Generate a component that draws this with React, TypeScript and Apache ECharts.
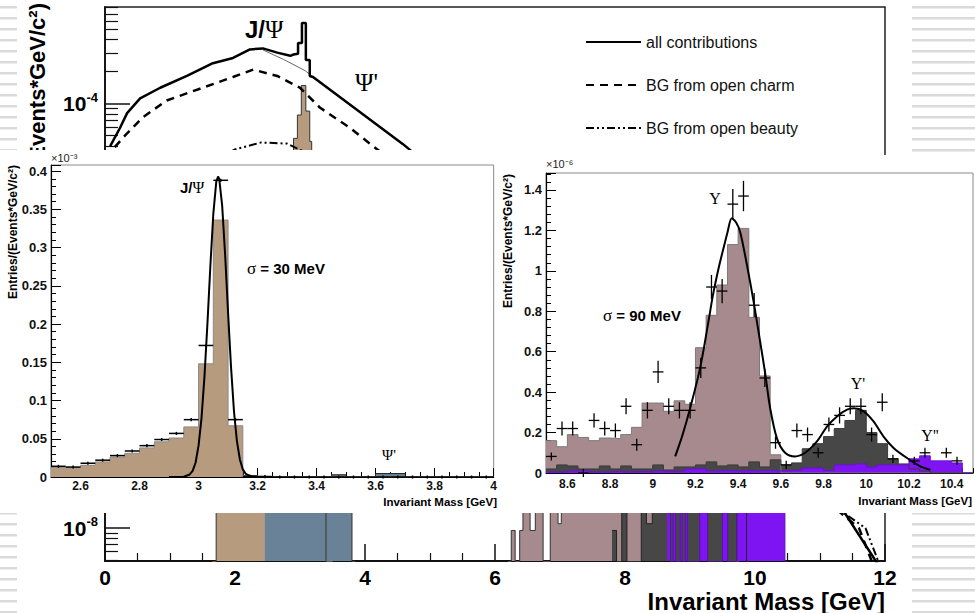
import React, { useEffect, useRef } from "react";
import * as echarts from "echarts";

type Pt = [number, number];

const SANS = "'Liberation Sans', Arial, Helvetica, sans-serif";
const SERIF = "'Liberation Serif', 'Times New Roman', serif";

// ================= Background: full mass range (log scale) =================
const bgYLabelExponents = [-8, -4];
const bgYMajorExponents = [-8, -7, -6, -5, -4];
const bgYMinorMultipliers = [2, 3, 4, 5, 6, 7, 8, 9];

const allContributions: Pt[] = [
  [0.08, 3.98e-5], [0.23, 5.89e-5], [0.34, 8.13e-5], [0.54, 1.12e-4], [0.85, 1.41e-4],
  [1.26, 1.82e-4], [1.66, 2.4e-4], [1.97, 2.69e-4], [2.23, 3.24e-4], [2.43, 3.31e-4],
  [2.65, 3.02e-4], [2.85, 2.82e-4], [2.9, 2.9e-4], [2.97, 2.95e-4], [2.97, 3.72e-4],
  [3.03, 3.72e-4], [3.03, 5.75e-4], [3.09, 5.75e-4], [3.09, 2.57e-4], [3.15, 2.57e-4],
  [3.15, 1.82e-4], [3.2, 1.78e-4], [4.58, 4.17e-5], [6.0, 7.9e-6], [8.0, 1.0e-6],
  [9.4, 6.3e-7], [10.0, 1.6e-7], [11.0, 3.2e-8], [11.95, 4.0e-9],
];
const continuumNoJpsi: Pt[] = [[2.43, 3.2e-4], [2.75, 2.6e-4], [3.08, 2.04e-4], [3.2, 1.78e-4]];
const openCharm: Pt[] = [
  [0.15, 3.89e-5], [0.34, 5.25e-5], [0.58, 7.41e-5], [0.95, 1.07e-4], [1.46, 1.38e-4],
  [1.97, 1.78e-4], [2.28, 2.09e-4], [2.65, 1.82e-4], [3.0, 1.41e-4], [3.31, 9.12e-5],
  [3.77, 5.89e-5], [4.08, 4.17e-5], [6.0, 5.0e-6], [8.0, 5.0e-7], [10.0, 6.3e-8],
  [11.2, 1.6e-8], [11.6, 1.0e-8], [11.85, 4.0e-9],
];
const openBeauty: Pt[] = [
  [0.5, 3.2e-6], [1.0, 1.26e-5], [1.5, 2.5e-5], [2.0, 3.7e-5], [2.4, 4.3e-5], [2.8, 4.2e-5],
  [3.2, 3.2e-5], [3.8, 1.6e-5], [5.0, 4.0e-6], [7.0, 5.0e-7], [9.0, 1.0e-7], [11.0, 2.0e-8],
  [11.7, 1.0e-8], [11.95, 4.0e-9],
];
// histograms: [lower bin edge, content]
const bgJpsiHist: Pt[] = [
  [1.65, 1e-10], [1.71, 2.5e-8], [1.9, 6e-8], [2.1, 1.2e-7], [2.3, 2.5e-7], [2.5, 5e-7],
  [2.7, 1.5e-6], [2.8, 4e-6], [2.9, 4.7e-5], [2.96, 7.8e-5], [3.02, 1.48e-4], [3.09, 8.5e-5],
  [3.15, 4.4e-5], [3.18, 8e-6], [3.25, 5e-7], [3.4, 1e-10], [3.5, 1e-10],
];
const bgPsiPrimeHist: Pt[] = [
  [2.46, 2.5e-8], [2.8, 6e-8], [3.1, 1.2e-7], [3.4, 4e-7], [3.55, 2e-6], [3.62, 1.0e-5],
  [3.7, 3e-6], [3.75, 3e-7], [3.8, 1e-10], [3.85, 1e-10],
];
const bgUpsilonHist: Pt[] = [
  [6.2, 1e-10], [6.25, 9.5e-9], [6.31, 1e-10], [6.38, 9.5e-9], [6.43, 3e-7], [6.54, 9.5e-9],
  [6.62, 3e-7], [6.74, 1e-10], [6.85, 3e-7], [6.97, 1.1e-8], [7.02, 4e-7], [9.72, 1e-10], [9.75, 1e-10],
];
const bgUpsilon2SHist: Pt[] = [
  [7.8, 9.5e-9], [7.87, 1e-10], [7.95, 3e-7], [8.03, 1e-10], [8.25, 3e-7], [8.33, 1.1e-8],
  [8.42, 3e-7], [9.87, 1e-10], [9.9, 1e-10],
];
const bgUpsilon3SHist: Pt[] = [
  [8.65, 3e-7], [8.7, 1e-10], [8.74, 3e-7], [8.78, 1e-10], [8.85, 3e-7], [8.88, 1e-10],
  [8.93, 3e-7], [8.96, 1e-10], [9.15, 3e-7], [9.27, 1e-10], [9.5, 3e-7], [9.58, 1e-10],
  [9.72, 3e-7], [10.46, 1e-10], [10.5, 1e-10],
];

// ================= Left inset: J/psi region (x10^-3) =================
const leftMassLabels = [2.6, 2.8, 3.0, 3.2, 3.4, 3.6, 3.8, 4.0];
const leftBinLo = [
  2.5, 2.55, 2.6, 2.65, 2.7, 2.75, 2.8, 2.85, 2.9, 2.95, 3.0, 3.05, 3.1, 3.15, 3.2,
  3.25, 3.3, 3.35, 3.4, 3.45, 3.5, 3.55, 3.6, 3.65, 3.7, 3.75, 3.8, 3.85, 3.9, 3.95,
];
const jpsiMC = [
  0.0122, 0.0122, 0.0153, 0.0197, 0.026, 0.031, 0.038, 0.046, 0.051, 0.0655, 0.148, 0.336, 0.067, 0.002, 0.0008,
  0.0005, 0.0003, 0.0002, 0.0001, 0, 0, 0, 0, 0, 0, 0, 0, 0, 0, 0,
];
const jpsiData = [
  0.014, 0.013, 0.018, 0.022, 0.028, 0.034, 0.041, 0.049, 0.057, 0.075, 0.172, 0.388, 0.075, 0.001, 0.0005,
  0, 0, 0, 0, 0, 0, 0, 0, 0, 0, 0, 0, 0, 0, 0,
];
const otherBumpLo = [3.45];
const otherBumpMC = [0.003];
const psiPrimeLo = [3.6, 3.65];
const psiPrimeMC = [0.0045, 0.0045];
const jpsiFit: Pt[] = [
  [2.9, 0], [2.93, 0.0001], [2.95, 0.0004], [2.97, 0.0033], [2.98, 0.008], [2.99, 0.019], [3.0, 0.041],
  [3.01, 0.077], [3.02, 0.131], [3.03, 0.2], [3.04, 0.276], [3.05, 0.344], [3.06, 0.386], [3.066, 0.393],
  [3.07, 0.39], [3.08, 0.355], [3.09, 0.291], [3.1, 0.215], [3.11, 0.144], [3.12, 0.086], [3.13, 0.047],
  [3.14, 0.023], [3.15, 0.01], [3.16, 0.004], [3.18, 0.0005], [3.25, 0],
];

// ================= Right inset: Upsilon region (x10^-6) =================
const rightMassLabels = [8.6, 8.8, 9.0, 9.2, 9.4, 9.6, 9.8, 10.0, 10.2, 10.4];
const rightBinLo = [
  8.5, 8.55, 8.6, 8.65, 8.7, 8.75, 8.8, 8.85, 8.9, 8.95, 9.0, 9.05, 9.1, 9.15, 9.2, 9.25, 9.3, 9.35, 9.4, 9.45,
  9.5, 9.55, 9.6, 9.65, 9.7, 9.75, 9.8, 9.85, 9.9, 9.95, 10.0, 10.05, 10.1, 10.15, 10.2, 10.25, 10.3, 10.35, 10.4, 10.45,
];
const upsilon1SMC = [
  0.16, 0.13, 0.19, 0.176, 0.16, 0.173, 0.17, 0.19, 0.226, 0.346, 0.346, 0.305, 0.357, 0.34, 0.62, 0.78, 0.93, 1.13, 1.21, 0.77,
  0.48, 0.09, 0, 0, 0, 0, 0, 0, 0, 0, 0, 0, 0, 0, 0, 0, 0, 0, 0, 0,
];
const upsilon2SMC = [
  0.02, 0.04, 0.035, 0.02, 0.02, 0.035, 0.02, 0.035, 0.02, 0.02, 0.04, 0.015, 0.03, 0.03, 0.04, 0.055, 0.035, 0.04, 0.03, 0.055,
  0.03, 0.065, 0.04, 0.05, 0.12, 0.145, 0.18, 0.22, 0.26, 0.31, 0.2, 0.145, 0.07, 0.045, 0.02, 0.01, 0, 0, 0, 0,
];
const upsilon3SMC = [
  0.005, 0.005, 0.01, 0.012, 0.005, 0.005, 0.008, 0.005, 0.008, 0.005, 0.01, 0.008, 0.01, 0.02, 0.022, 0.01, 0.012, 0.01, 0.012, 0.01,
  0.012, 0.01, 0.012, 0.015, 0.025, 0.025, 0.012, 0.04, 0.04, 0.045, 0.03, 0.04, 0.04, 0.04, 0.07, 0.085, 0.06, 0.06, 0.05, 0,
];
const upsilonData: (number | null)[] = [
  0.082, 0.22, 0.22, 0.0, 0.26, 0.22, 0.21, 0.33, 0.14, 0.31, 0.5, 0.33, 0.31, 0.31, 0.52, 0.92, 0.9, 1.33, 1.37, 0.83,
  0.47, 0.15, 0.04, 0.21, 0.19, 0.1, 0.24, 0.285, 0.33, 0.33, 0.19, 0.35, 0.07, null, 0.06, 0.1, null, 0.1, 0.06, null,
];
const upsilonErr = [
  0.02, 0.035, 0.035, 0.02, 0.035, 0.035, 0.035, 0.04, 0.03, 0.04, 0.055, 0.04, 0.04, 0.04, 0.05, 0.06, 0.06, 0.075, 0.075, 0.06,
  0.045, 0.03, 0.02, 0.035, 0.035, 0.025, 0.035, 0.04, 0.04, 0.04, 0.035, 0.045, 0.02, 0, 0.02, 0.025, 0, 0.025, 0.02, 0,
];
const upsilonFit: Pt[] = [
  [9.105, 0.082], [9.14, 0.19], [9.175, 0.32], [9.222, 0.52], [9.261, 0.75], [9.282, 0.88], [9.31, 1.02],
  [9.331, 1.11], [9.35, 1.19], [9.37, 1.26], [9.39, 1.24], [9.41, 1.19], [9.441, 1.03], [9.472, 0.85],
  [9.503, 0.65], [9.527, 0.49], [9.55, 0.32], [9.582, 0.17], [9.62, 0.1], [9.667, 0.082], [9.714, 0.1],
  [9.769, 0.156], [9.816, 0.23], [9.863, 0.28], [9.91, 0.313], [9.941, 0.32], [9.988, 0.305], [10.034, 0.255],
  [10.081, 0.18], [10.128, 0.124], [10.191, 0.074], [10.253, 0.033], [10.3, 0.016],
];

// ================= helpers =================
const toLog = (pts: Pt[]): Pt[] => pts.map(([x, v]) => [x, Math.log10(v)]);
const stepHist = (lo: number[], vals: number[], width: number): Pt[] => {
  const pts: Pt[] = lo.map((x, i) => [x, vals[i]]);
  pts.push([lo[lo.length - 1] + width, vals[vals.length - 1]]);
  return pts;
};
const histSeries = (name: string, data: Pt[], fill: string, edge: string, edgeWidth = 1) => ({
  name,
  type: "line",
  step: "end",
  data,
  symbol: "none",
  lineStyle: { color: edge, width: edgeWidth },
  areaStyle: { color: fill, opacity: 1, origin: "start" },
  silent: true,
});
const crossSeries = (data: any[], width: number) => ({
  type: "custom",
  data,
  encode: { x: 0, y: 1 },
  z: 6,
  renderItem: (_p: any, api: any) => {
    const x = api.value(0);
    const y = api.value(1);
    const e = api.value(2);
    const hw = api.value(3);
    const l = api.coord([x - hw, y]);
    const r = api.coord([x + hw, y]);
    const t = api.coord([x, y + e]);
    const b = api.coord([x, y - e]);
    const st = { stroke: "#000", lineWidth: width };
    return {
      type: "group",
      children: [
        { type: "line", shape: { x1: l[0], y1: l[1], x2: r[0], y2: r[1] }, style: st },
        { type: "line", shape: { x1: t[0], y1: t[1], x2: b[0], y2: b[1] }, style: st },
      ],
    };
  },
});
const curveSeries = (name: string, data: Pt[], width: number, type: any) => ({
  name,
  type: "line",
  data: toLog(data),
  symbol: "none",
  showSymbol: false,
  itemStyle: { color: "#000" },
  lineStyle: { color: "#000", width, type },
  z: 5,
});

// ================= options =================
function backgroundOption() {
  const minorExps: number[] = [];
  for (let e = -9; e <= -4; e++) {
    for (const m of bgYMinorMultipliers) {
      const v = e + Math.log10(m);
      if (v > -8.31 && v < -3.09) minorExps.push(v);
    }
  }
  const stripes: any[] = [];
  for (let y = 7; y < 613; y += 11) {
    stripes.push({ type: "rect", shape: { x: 0, y: y - 1, width: 17, height: 2.5 }, style: { fill: "#dadada" }, silent: true });
    stripes.push({ type: "rect", shape: { x: 912, y: y - 1, width: 63, height: 2.5 }, style: { fill: "#dadada" }, silent: true });
  }
  const axisLine = { lineStyle: { color: "#111", width: 1.8 } };
  return {
    animation: false,
    backgroundColor: "#fff",
    textStyle: { fontFamily: SANS },
    grid: { left: 105, right: 90, top: 7, bottom: 52, show: true, borderColor: "#222", borderWidth: 1.5 },
    legend: {
      orient: "vertical",
      left: 580,
      top: 29,
      itemWidth: 55,
      itemHeight: 14,
      itemGap: 27,
      selectedMode: false,
      itemStyle: { opacity: 0, borderWidth: 0 },
      textStyle: { fontSize: 16, color: "#111", fontFamily: SANS },
      data: ["all contributions", "BG from open charm", "BG from open beauty"],
    },
    xAxis: {
      type: "value",
      min: 0,
      max: 12,
      interval: 2,
      axisLine,
      axisTick: { inside: true, length: 17, lineStyle: { color: "#111", width: 1.5 } },
      minorTick: { show: true, splitNumber: 4, length: 8, lineStyle: { color: "#111", width: 1.2 } },
      axisLabel: { fontSize: 21, lineHeight: 20, fontWeight: "bold", color: "#000", margin: 6, fontFamily: SANS },
      splitLine: { show: false },
    },
    yAxis: [
      {
        type: "value",
        min: -8.31,
        max: -3.09,
        axisLine: { show: true, ...axisLine },
        axisTick: { inside: true, length: 13, customValues: minorExps, lineStyle: { color: "#111", width: 1.2 } },
        axisLabel: {
          customValues: bgYLabelExponents,
          margin: 7,
          formatter: (v: number) => `{b|10}{s|${Math.round(v)}}`,
          rich: {
            b: { fontSize: 21, fontWeight: "bold", color: "#000", fontFamily: SANS, lineHeight: 26 },
            s: { fontSize: 13, fontWeight: "bold", color: "#000", fontFamily: SANS, lineHeight: 14, verticalAlign: "top" },
          },
        },
        splitLine: { show: false },
      },
      {
        type: "value",
        min: -8.31,
        max: -3.09,
        position: "left",
        axisLine: { show: false },
        axisTick: { inside: true, length: 25, customValues: bgYMajorExponents, lineStyle: { color: "#111", width: 1.5 } },
        axisLabel: { show: false },
        splitLine: { show: false },
      },
    ],
    series: [
      histSeries("J/psi (full range)", toLog(bgJpsiHist), "#b79b7f", "#333"),
      histSeries("psi' (full range)", toLog(bgPsiPrimeHist), "#6a8297", "#333"),
      histSeries("Upsilon (full range)", toLog(bgUpsilonHist), "#a78a8d", "#333"),
      histSeries("Upsilon' (full range)", toLog(bgUpsilon2SHist), "#474747", "#222"),
      histSeries("Upsilon'' (full range)", toLog(bgUpsilon3SHist), "#7f14f2", "#5a0fb0"),
      { name: "continuum", type: "line", data: toLog(continuumNoJpsi), symbol: "none", lineStyle: { color: "#666", width: 1 }, z: 4 },
      curveSeries("BG from open beauty", openBeauty, 2, [8, 3, 2, 3, 2, 3]),
      curveSeries("BG from open charm", openCharm, 2.5, [8, 6]),
      curveSeries("all contributions", allContributions, 2.5, "solid"),
    ],
    graphic: [
      ...stripes,
      {
        type: "text",
        x: 37,
        y: 3,
        rotation: Math.PI / 2,
        style: { text: "Entries/(Events*GeV/c²)", font: `bold 22px ${SANS}`, fill: "#000", textAlign: "right", textVerticalAlign: "middle" },
      },
      {
        type: "text",
        x: 245,
        y: 29,
        style: {
          text: "{a|J/}{b|Ψ}",
          textVerticalAlign: "middle",
          rich: {
            a: { fontSize: 24, fontWeight: "bold", fontFamily: SANS, fill: "#000" },
            b: { fontSize: 25, fontFamily: SERIF, fill: "#000" },
          },
        },
      },
      { type: "text", x: 355, y: 82, style: { text: "Ψ'", font: `25px ${SERIF}`, fill: "#000", textVerticalAlign: "middle" } },
      {
        type: "text",
        x: 885,
        y: 601,
        style: {
          text: "Invariant Mass [GeV]",
          font: `bold 24px ${SANS}`,
          lineHeight: 22,
          fill: "#000",
          textAlign: "right",
          textVerticalAlign: "middle",
        },
      },
    ],
  };
}

function panelAxes(min: number, max: number, labels: number[], minor: number[], ymax: number, yInterval: number, labelMargin: number) {
  return {
    xAxis: [
      {
        type: "value",
        min,
        max,
        axisLine: { lineStyle: { color: "#000", width: 1.2 } },
        axisTick: { inside: true, length: 9, customValues: labels, lineStyle: { color: "#000" } },
        axisLabel: {
          customValues: labels,
          fontSize: 12,
          fontWeight: "bold",
          color: "#111",
          fontFamily: SANS,
          margin: labelMargin,
          formatter: (v: number) => String(+v.toFixed(2)),
        },
        splitLine: { show: false },
      },
      {
        type: "value",
        min,
        max,
        position: "bottom",
        axisLine: { show: false },
        axisTick: { inside: true, length: 5, customValues: minor, lineStyle: { color: "#000" } },
        axisLabel: { show: false },
        splitLine: { show: false },
      },
    ],
    yAxis: {
      type: "value",
      min: 0,
      max: ymax,
      interval: yInterval,
      axisLine: { show: true, lineStyle: { color: "#000", width: 1.2 } },
      axisTick: { inside: true, length: 10, lineStyle: { color: "#000" } },
      minorTick: { show: true, splitNumber: 5, length: 5, lineStyle: { color: "#000" } },
      axisLabel: { fontSize: 13, fontWeight: "bold", color: "#111", fontFamily: SANS, margin: 4, showMaxLabel: false },
      splitLine: { show: false },
    },
  };
}

function leftOption() {
  const crosses = leftBinLo.map((lo, i) => [lo + 0.025, jpsiData[i], 0.002, 0.025]);
  return {
    animation: false,
    backgroundColor: "#fff",
    textStyle: { fontFamily: SANS },
    grid: { left: 51, right: 5, top: 15, bottom: 36, show: true, borderColor: "#8a8a8a", borderWidth: 1 },
    ...panelAxes(2.5, 4.0, leftMassLabels, [...leftBinLo, 4.0], 0.408, 0.05, 3),
    series: [
      histSeries("J/psi MC", stepHist(leftBinLo, jpsiMC, 0.05), "#b79b7f", "#8a8a8a"),
      histSeries("other", stepHist(otherBumpLo, otherBumpMC, 0.05), "#6f6f6f", "#333"),
      histSeries("psi' MC", stepHist(psiPrimeLo, psiPrimeMC, 0.05), "#6a8297", "#222"),
      crossSeries(crosses, 1.5),
      { name: "J/psi fit", type: "line", data: jpsiFit, symbol: "none", lineStyle: { color: "#000", width: 2 }, z: 7 },
    ],
    graphic: [
      { type: "text", x: 51, y: 8, style: { text: "×10⁻³", font: `11px ${SANS}`, fill: "#222", textVerticalAlign: "middle" } },
      {
        type: "text",
        x: 13,
        y: 15,
        rotation: Math.PI / 2,
        style: { text: "Entries/(Events*GeV/c²)", font: `bold 12px ${SANS}`, fill: "#000", textAlign: "right", textVerticalAlign: "middle" },
      },
      {
        type: "text",
        x: 180,
        y: 37,
        style: {
          text: "{a|J/}{b|Ψ}",
          textVerticalAlign: "middle",
          rich: {
            a: { fontSize: 15, fontWeight: "bold", fontFamily: SANS, fill: "#000" },
            b: { fontSize: 16, fontFamily: SERIF, fill: "#000" },
          },
        },
      },
      {
        type: "text",
        x: 247,
        y: 118,
        style: {
          text: "{g|σ}{t| = 30 MeV}",
          textVerticalAlign: "middle",
          rich: {
            g: { fontSize: 17, fontFamily: SERIF, fill: "#000" },
            t: { fontSize: 15, fontWeight: "bold", fontFamily: SANS, fill: "#000" },
          },
        },
      },
      { type: "text", x: 389, y: 305, style: { text: "Ψ'", font: `15px ${SERIF}`, fill: "#000", textAlign: "center", textVerticalAlign: "middle" } },
      {
        type: "text",
        x: 497,
        y: 352,
        style: { text: "Invariant Mass [GeV]", font: `bold 11.5px ${SANS}`, fill: "#000", textAlign: "right", textVerticalAlign: "middle" },
      },
    ],
  };
}

function rightOption() {
  const crosses = rightBinLo
    .map((lo, i) => (upsilonData[i] === null ? null : [lo + 0.025, upsilonData[i], upsilonErr[i], 0.025]))
    .filter((d) => d !== null);
  return {
    animation: false,
    backgroundColor: "#fff",
    textStyle: { fontFamily: SANS },
    grid: { left: 46, right: 2, top: 18, bottom: 40, show: true, borderColor: "#8a8a8a", borderWidth: 1 },
    ...panelAxes(8.5, 10.5, rightMassLabels, [...rightBinLo, 10.5], 1.484, 0.2, 5),
    series: [
      histSeries("Upsilon(1S) MC", stepHist(rightBinLo, upsilon1SMC, 0.05), "#a78a8d", "#7a7a7a"),
      histSeries("Upsilon(2S) MC", stepHist(rightBinLo, upsilon2SMC, 0.05), "#474747", "#3a3a3a"),
      histSeries("Upsilon(3S) MC", stepHist(rightBinLo, upsilon3SMC, 0.05), "#7f14f2", "#6a10d0"),
      crossSeries(crosses, 1.3),
      { name: "Upsilon fit", type: "line", data: upsilonFit, symbol: "none", smooth: 0.3, lineStyle: { color: "#000", width: 2 }, z: 7 },
    ],
    graphic: [
      { type: "text", x: 46, y: 9, style: { text: "×10⁻⁶", font: `11px ${SANS}`, fill: "#222", textVerticalAlign: "middle" } },
      {
        type: "text",
        x: 8,
        y: 19,
        rotation: Math.PI / 2,
        style: { text: "Entries/(Events*GeV/c²)", font: `bold 12px ${SANS}`, fill: "#000", textAlign: "right", textVerticalAlign: "middle" },
      },
      { type: "text", x: 215, y: 43, style: { text: "Υ", font: `16px ${SERIF}`, fill: "#000", textAlign: "center", textVerticalAlign: "middle" } },
      {
        type: "text",
        x: 103,
        y: 160,
        style: {
          text: "{g|σ}{t| = 90 MeV}",
          textVerticalAlign: "middle",
          rich: {
            g: { fontSize: 17, fontFamily: SERIF, fill: "#000" },
            t: { fontSize: 15, fontWeight: "bold", fontFamily: SANS, fill: "#000" },
          },
        },
      },
      { type: "text", x: 358, y: 228, style: { text: "Υ'", font: `16px ${SERIF}`, fill: "#000", textAlign: "center", textVerticalAlign: "middle" } },
      { type: "text", x: 430, y: 280, style: { text: "Υ''", font: `16px ${SERIF}`, fill: "#000", textAlign: "center", textVerticalAlign: "middle" } },
      {
        type: "text",
        x: 472,
        y: 346,
        style: { text: "Invariant Mass [GeV]", font: `bold 11.5px ${SANS}`, fill: "#000", textAlign: "right", textVerticalAlign: "middle" },
      },
    ],
  };
}

export default function App() {
  const bgRef = useRef<HTMLDivElement>(null);
  const leftRef = useRef<HTMLDivElement>(null);
  const rightRef = useRef<HTMLDivElement>(null);

  useEffect(() => {
    const charts = [
      echarts.init(bgRef.current as HTMLDivElement, undefined, { renderer: "svg" }),
      echarts.init(leftRef.current as HTMLDivElement, undefined, { renderer: "svg" }),
      echarts.init(rightRef.current as HTMLDivElement, undefined, { renderer: "svg" }),
    ];
    charts[0].setOption(backgroundOption() as any);
    charts[1].setOption(leftOption() as any);
    charts[2].setOption(rightOption() as any);
    return () => charts.forEach((c) => c.dispose());
  }, []);

  return (
    <div style={{ position: "absolute", left: 0, top: 0, width: 975, height: 613, background: "#fff", overflow: "hidden" }}>
      <div ref={bgRef} style={{ position: "absolute", left: 0, top: 0, width: 975, height: 613 }} />
      <div ref={leftRef} style={{ position: "absolute", left: 0, top: 150, width: 500, height: 363, background: "#fff" }} />
      <div ref={rightRef} style={{ position: "absolute", left: 500, top: 155, width: 475, height: 358, background: "#fff" }} />
    </div>
  );
}
